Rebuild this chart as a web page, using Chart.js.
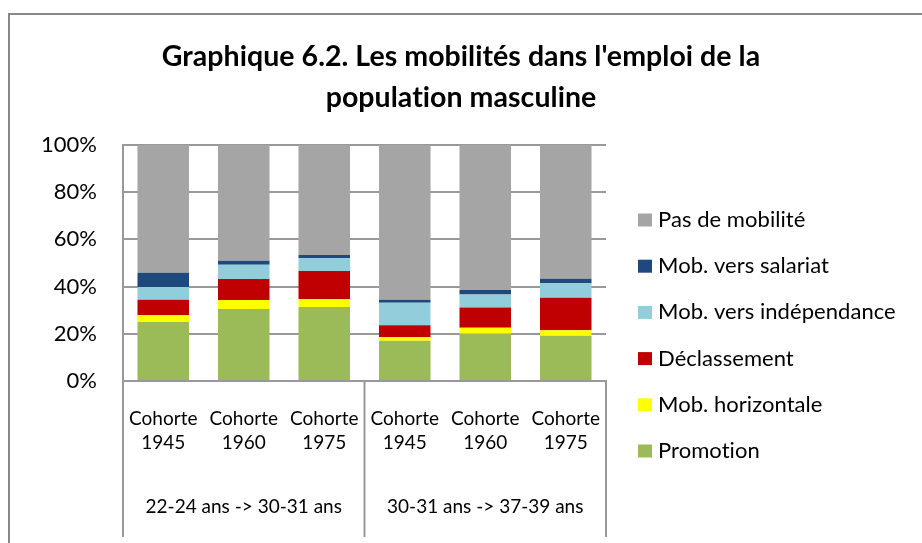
<!DOCTYPE html>
<html>
<head>
<meta charset="utf-8">
<script src="https://cdn.jsdelivr.net/npm/chart.js@4.4.1/dist/chart.umd.min.js"></script>
<style>
  body { margin: 0; background: #fff; }
  #wrap { position: relative; width: 922px; height: 543px; overflow: hidden; }
  #frame { position: absolute; left: 8px; top: 13px; width: 1000px; height: 1000px; border: 2px solid #888; }
  #chart { position: absolute; left: 0; top: 0; }
</style>
</head>
<body>
<div id="wrap">
  <div id="frame"></div>
  <canvas id="chart" width="922" height="543"></canvas>
</div>
<script>
// ── DATA ──────────────────────────────────────────────
const titleLines = ["Graphique 6.2. Les mobilités dans l'emploi de la", 'population masculine'];
const cohorts = [
    ['Cohorte', '1945'], ['Cohorte', '1960'], ['Cohorte', '1975'],
    ['Cohorte', '1945'], ['Cohorte', '1960'], ['Cohorte', '1975']
];
const groupLabels = ['22-24 ans -> 30-31 ans', '30-31 ans -> 37-39 ans'];
const yTicks = [0, 20, 40, 60, 80, 100];

const promotion    = [25.0, 30.5, 31.4, 17.1, 20.0, 19.2];
const horizontale  = [2.9, 3.8, 3.3, 1.5, 2.6, 2.3];
const declassement = [6.5, 8.9, 11.9, 5.0, 8.5, 13.8];
const independance = [5.4, 6.1, 5.5, 9.6, 5.5, 6.1];
const salariat     = [6.1, 1.7, 1.3, 1.2, 2.0, 1.9];
const pasMobilite  = [54.1, 49.0, 46.6, 65.6, 61.4, 56.7];

const FONT = 'Lato';

// ── PLUGINS: title, group labels + separators, legend on the right ──
const titlePlugin = {
    id: 'centerTitle',
    afterDraw(chart) {
        const ctx = chart.ctx;
        ctx.save();
        ctx.fillStyle = '#000';
        ctx.font = `bold 28.5px ${FONT}`;
        ctx.letterSpacing = '0.05px'; // stops the "ti" ligature
        ctx.textAlign = 'center';
        ctx.textBaseline = 'middle';
        titleLines.forEach((t, i) => ctx.fillText(t, chart.width / 2, 57 + i * 41));
        ctx.restore();
    }
};

const groupAxisPlugin = {
    id: 'groupAxis',
    afterDraw(chart) {
        const {ctx, chartArea, scales: {x}} = chart;
        const half = (x.getPixelForValue(1) - x.getPixelForValue(0)) / 2;
        ctx.save();
        ctx.strokeStyle = '#999';
        ctx.lineWidth = 2;
        const seps = [x.getPixelForValue(0) - half, x.getPixelForValue(2) + half, x.getPixelForValue(5) + half];
        seps.forEach(px => {
            ctx.beginPath();
            ctx.moveTo(px, chartArea.bottom);
            ctx.lineTo(px, 537);
            ctx.stroke();
        });
        ctx.fillStyle = '#000';
        ctx.font = `19px ${FONT}`;
        ctx.textAlign = 'center';
        ctx.textBaseline = 'middle';
        groupLabels.forEach((lbl, i) => {
            ctx.fillText(lbl, x.getPixelForValue(i * 3 + 1), 507);
        });
        ctx.restore();
    }
};

const sideLegendPlugin = {
    id: 'sideLegend',
    afterDraw(chart) {
        const ctx = chart.ctx;
        const items = chart.data.datasets.slice().reverse();
        ctx.save();
        ctx.font = `22px ${FONT}`;
        ctx.letterSpacing = '0.05px';
        ctx.textBaseline = 'middle';
        ctx.textAlign = 'left';
        items.forEach((ds, i) => {
            const y = 220 + i * 46.2;
            ctx.fillStyle = ds.backgroundColor;
            ctx.fillRect(638, y - 6.5, 14, 13);
            ctx.fillStyle = '#000';
            ctx.fillText(ds.label, 658, y);
        });
        ctx.restore();
    }
};

const mk = (label, data, color) => ({label, data, backgroundColor: color, borderWidth: 0});

new Chart(document.getElementById('chart'), {
    type: 'bar',
    data: {
        labels: cohorts,
        datasets: [
            mk('Promotion', promotion, '#9BBB59'),
            mk('Mob. horizontale', horizontale, '#FFFF00'),
            mk('Déclassement', declassement, '#C00000'),
            mk('Mob. vers indépendance', independance, '#92CDDC'),
            mk('Mob. vers salariat', salariat, '#1F497D'),
            mk('Pas de mobilité', pasMobilite, '#A5A5A5')
        ]
    },
    options: {
        responsive: false,
        animation: false,
        devicePixelRatio: 1,
        layout: {padding: {left: 0, right: 316, top: 145, bottom: 0}},
        datasets: {bar: {categoryPercentage: 1, barPercentage: 0.64}},
        plugins: {
            legend: {display: false},
            tooltip: {enabled: false},
            title: {display: false}
        },
        scales: {
            x: {
                stacked: true,
                grid: {display: false, drawTicks: false},
                border: {display: true, color: '#999', width: 2},
                ticks: {color: '#000', font: {family: FONT, size: 19, lineHeight: 1.26}, padding: 26, maxRotation: 0, autoSkip: false},
                afterFit: s => { s.height = 162; }
            },
            y: {
                stacked: true,
                min: 0,
                max: 100,
                afterBuildTicks: s => { s.ticks = yTicks.map(v => ({value: v})); },
                grid: {color: '#999', lineWidth: 2, drawTicks: false},
                border: {display: true, color: '#999', width: 2},
                ticks: {color: '#000', font: {family: FONT, size: 22}, padding: 26, callback: v => v + '%'},
                afterFit: s => { s.width = 123; }
            }
        }
    },
    plugins: [titlePlugin, groupAxisPlugin, sideLegendPlugin]
});
</script>
</body>
</html>
